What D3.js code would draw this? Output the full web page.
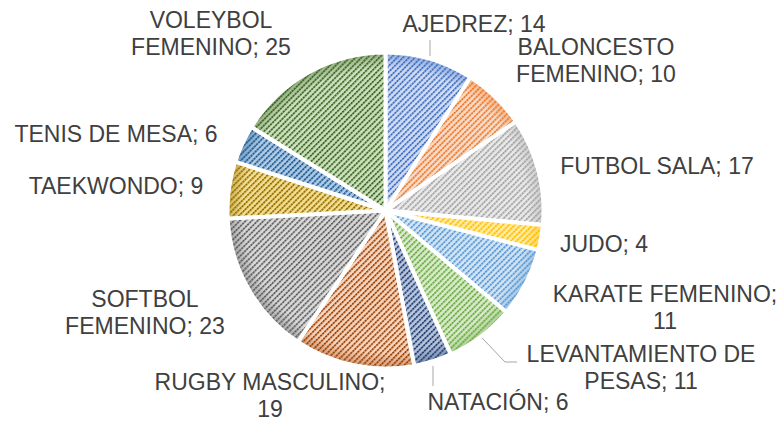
<!DOCTYPE html>
<html><head><meta charset="utf-8">
<script src="https://cdn.jsdelivr.net/npm/d3@7/dist/d3.min.js"></script>
<style>body{margin:0;background:#fff}svg{display:block}</style>
</head><body>
<svg id="c" width="784" height="421"></svg>
<script>
const categories = ["AJEDREZ","BALONCESTO FEMENINO","FUTBOL SALA","JUDO","KARATE FEMENINO","LEVANTAMIENTO DE PESAS","NATACIÓN","RUGBY MASCULINO","SOFTBOL FEMENINO","TAEKWONDO","TENIS DE MESA","VOLEYBOL FEMENINO"];
const values = [14,10,17,4,11,11,6,19,23,9,6,25];
const labelLines = [["AJEDREZ; 14"],["BALONCESTO","FEMENINO; 10"],["FUTBOL SALA; 17"],["JUDO; 4"],["KARATE FEMENINO;","11"],["LEVANTAMIENTO DE","PESAS; 11"],["NATACIÓN; 6"],["RUGBY MASCULINO;","19"],["SOFTBOL","FEMENINO; 23"],["TAEKWONDO; 9"],["TENIS DE MESA; 6"],["VOLEYBOL","FEMENINO; 25"]];

// styles / layout
const fg = ["#4472C4","#ED7D31","#A5A5A5","#FFC000","#5B9BD5","#70AD47","#264478","#9E480E","#636363","#997300","#255E91","#43682B"];
const bg = ["#D2DDF2","#FADBC7","#E9E9E9","#FFEBA8","#D3E4F4","#D8EBCB","#BAC6DC","#F8D6BF","#DADADA","#F3DE95","#AECBE8","#CCE2BD"];
const labelPos = [[474,32],[596,55],[657,174],[604,252],[665,302],[641,362],[498,410],[270,390],[145,307],[116,194],[116,142],[211,28]];
const leaders = {0:[[430,56],[430,40]],5:null,6:[[433,366],[433,386]]};
const cx = 385.5, cy = 210.5, R = 158;

const svg = d3.select("#c");
const defs = svg.append("defs");
fg.forEach((c,i)=>{
  const p = defs.append("pattern").attr("id","p"+i).attr("patternUnits","userSpaceOnUse")
    .attr("width",3).attr("height",4.2).attr("patternTransform","rotate(-45)");
  p.append("rect").attr("width",3).attr("height",4.2).attr("fill",bg[i]);
  p.append("rect").attr("x",0).attr("y",0).attr("width",2.4).attr("height",1.8).attr("fill",c);
  const g = defs.append("radialGradient").attr("id","g"+i).attr("gradientUnits","userSpaceOnUse")
    .attr("cx",0).attr("cy",0).attr("r",R);
  g.append("stop").attr("offset","0.9").attr("stop-color",c).attr("stop-opacity",0);
  g.append("stop").attr("offset","1").attr("stop-color",c).attr("stop-opacity",0.45);
});

const pie = d3.pie().sort(null).value(d=>d)(values);
const arc = d3.arc().innerRadius(0).outerRadius(R);
const g = svg.append("g").attr("transform",`translate(${cx},${cy})`);
const sl = g.selectAll("g.s").data(pie).join("g");
sl.append("path").attr("d",arc).attr("fill",(d,i)=>`url(#p${i})`);
sl.append("path").attr("d",arc).attr("fill",(d,i)=>`url(#g${i})`);
sl.append("path").attr("d",arc).attr("fill","none").attr("stroke","#fff").attr("stroke-width",4).attr("stroke-linejoin","round");

// leader lines
const lc = "#A6A6A6";
svg.append("path").attr("d",d3.line()(leaders[0])).attr("stroke",lc).attr("fill","none");
svg.append("path").attr("d",d3.line()(leaders[6])).attr("stroke",lc).attr("fill","none");
{
  const d = pie[5]; const a = (d.startAngle+d.endAngle)/2;
  const x0 = cx + Math.sin(a)*(R+2), y0 = cy - Math.cos(a)*(R+2);
  svg.append("path").attr("d",d3.line()([[x0,y0],[505,362],[517,362]])).attr("stroke",lc).attr("fill","none");
}

// labels
labelLines.forEach((lines,i)=>{
  const t = svg.append("text").attr("x",labelPos[i][0]).attr("y",labelPos[i][1])
    .attr("text-anchor","middle").attr("fill","#404040")
    .attr("font-family","'Liberation Sans', Arial, sans-serif").attr("font-size",23);
  lines.forEach((l,j)=>t.append("tspan").attr("x",labelPos[i][0]).attr("dy",j?27:0).text(l));
});
</script>
</body></html>
